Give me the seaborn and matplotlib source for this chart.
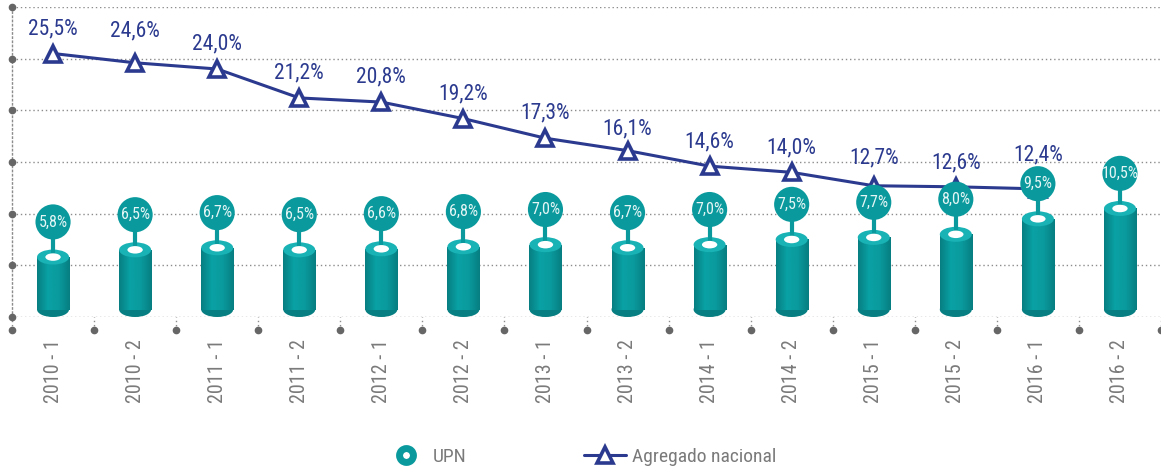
import numpy as np
import pandas as pd
import matplotlib
matplotlib.use("Agg")
import matplotlib.pyplot as plt
from matplotlib.patches import Ellipse
from matplotlib.lines import Line2D
from matplotlib.colors import LinearSegmentedColormap
import seaborn as sns

# Data
periods = ["2010 - 1", "2010 - 2", "2011 - 1", "2011 - 2", "2012 - 1", "2012 - 2", "2013 - 1",
           "2013 - 2", "2014 - 1", "2014 - 2", "2015 - 1", "2015 - 2", "2016 - 1", "2016 - 2"]
upn = [5.8, 6.5, 6.7, 6.5, 6.6, 6.8, 7.0, 6.7, 7.0, 7.5, 7.7, 8.0, 9.5, 10.5]
nacional = [25.5, 24.6, 24.0, 21.2, 20.8, 19.2, 17.3, 16.1, 14.6, 14.0, 12.7, 12.6, 12.4, np.nan]
y_ticks = [0, 5, 10, 15, 20, 25, 30]

# Colours
TEAL = "#0a9a9d"
TEAL_LIGHT = "#19b2b5"
TEAL_DARK = "#077e81"
NAVY = "#2b3a8e"
GREY = "#7a7a7a"
GRID = "#8c8c8c"

sns.set_theme(style="white")
plt.rcParams['font.family'] = ['Roboto Condensed', 'Encode Sans Condensed',
                               'Liberation Sans Narrow', 'Roboto', 'DejaVu Sans']

df = pd.DataFrame({"periodo": periods, "upn": upn, "nacional": nacional})

fig = plt.figure(figsize=(11.61, 4.69), dpi=100)
ax = fig.add_axes([12 / 1161, 152 / 469, 1149 / 1161, 310 / 469])

# Cylinder bodies
sns.barplot(data=df, x="periodo", y="upn", color=TEAL, saturation=1, width=0.39, ax=ax, zorder=2)
ax.set_xlim(-0.5, len(periods) - 0.5)
ax.set_ylim(0, 30)

shade = LinearSegmentedColormap.from_list("cyl", [TEAL_DARK, "#0aa2a5", TEAL, TEAL_DARK])
grad = np.linspace(0, 1, 64).reshape(1, -1)
ell_h = 1.45  # ellipse height in data units
for bar, v in zip(ax.patches, upn):
    bar.set_edgecolor("none")
    bar.set_y(ell_h / 2)
    bar.set_height(v - ell_h / 2)
    xc = bar.get_x() + bar.get_width() / 2
    w = bar.get_width()
    im = ax.imshow(grad, cmap=shade, aspect="auto", zorder=2.05,
                   extent=(bar.get_x(), bar.get_x() + w, 0, v))
    im.set_clip_path(bar)
    # bottom ellipse
    ax.add_patch(Ellipse((xc, ell_h / 2), w, ell_h, color=TEAL_DARK, zorder=1.9, lw=0))
    # top ellipse with white hole
    ax.add_patch(Ellipse((xc, v), w, ell_h, color=TEAL_LIGHT, zorder=2.1, lw=0))
    ax.add_patch(Ellipse((xc, v), w * 0.48, ell_h * 0.5, color="white", zorder=2.2, lw=0))

# National line
x_pos = np.arange(len(periods))
ax.plot(x_pos, nacional, color=NAVY, lw=2.2, marker="^", markersize=12,
        markerfacecolor="white", markeredgecolor=NAVY, markeredgewidth=2.6, zorder=3)
label_off = [25, 32, 25, 25, 25, 25, 25, 22, 24, 24, 28, 24, 34, 24]
for xi, v, off in zip(x_pos, nacional, label_off):
    if np.isnan(v):
        continue
    ax.annotate(f"{v:.1f}%".replace(".", ","), (xi, v), xytext=(0, off), textcoords="offset pixels",
                ha="center", va="center", color=NAVY, fontsize=15.5, zorder=5)

# UPN label bubbles
bub_off = 3.4
ax.vlines(x_pos, np.array(upn), np.array(upn) + bub_off, color=TEAL, lw=3, zorder=2.15)
ax.scatter(x_pos, np.array(upn) + bub_off, s=640, color=TEAL, edgecolor="none", zorder=4)
for xi, v in zip(x_pos, upn):
    ax.text(xi, v + bub_off, f"{v:.1f}%".replace(".", ","), ha="center", va="center",
            color="#e6f6f6", fontsize=11.5, zorder=6)

# Axes styling
ax.set_xlim(-0.5, len(periods) - 0.5)
ax.set_ylim(0, 30)
ax.set_yticks(y_ticks)
ax.set_yticklabels([])
ax.grid(axis="y", color=GRID, linestyle=(0, (1, 2)), lw=1)
ax.set_axisbelow(True)
for s in ["top", "right", "bottom"]:
    ax.spines[s].set_visible(False)
ax.spines["left"].set_color(GRID)
ax.spines["left"].set_linestyle((0, (1, 2)))
ax.spines["left"].set_linewidth(1)
ax.tick_params(axis="both", length=0)
ax.set_xlabel("")
ax.set_ylabel("")
ax.set_xticks(x_pos)
ax.set_xticklabels(periods, rotation=90, color=GREY, fontsize=14.5, va="top")
ax.tick_params(axis="x", pad=16)

# Dots on the left axis at each grid level
ax.plot(np.zeros(len(y_ticks)), y_ticks, "o", color="#666666", ms=4.5,
        transform=ax.get_yaxis_transform(), clip_on=False, zorder=5)
# Separators under the baseline
bounds = np.arange(len(periods) + 1) - 0.5
drop = -13 / 310
ax.vlines(bounds, drop, 0, color=GRID, linestyle=(0, (1, 2)), lw=1,
          transform=ax.get_xaxis_transform(), clip_on=False)
ax.plot(bounds, np.full(len(bounds), drop), "o", color="#666666", ms=4.5,
        transform=ax.get_xaxis_transform(), clip_on=False)

# Legend
handles = [
    Line2D([], [], ls="none", marker="o", ms=10, markerfacecolor="white",
           markeredgecolor=TEAL, markeredgewidth=5),
    Line2D([], [], color=NAVY, lw=2.2, marker="^", ms=12, markerfacecolor="white",
           markeredgecolor=NAVY, markeredgewidth=2.6),
]
leg = fig.legend(handles, ["UPN", "Agregado nacional"], loc="center", bbox_to_anchor=(0.5, 12 / 469),
                 ncol=2, frameon=False, fontsize=14, columnspacing=6.0, handlelength=2.2,
                 handletextpad=0.3)
for t in leg.get_texts():
    t.set_color(GREY)

fig.savefig("out.png", dpi=100)
